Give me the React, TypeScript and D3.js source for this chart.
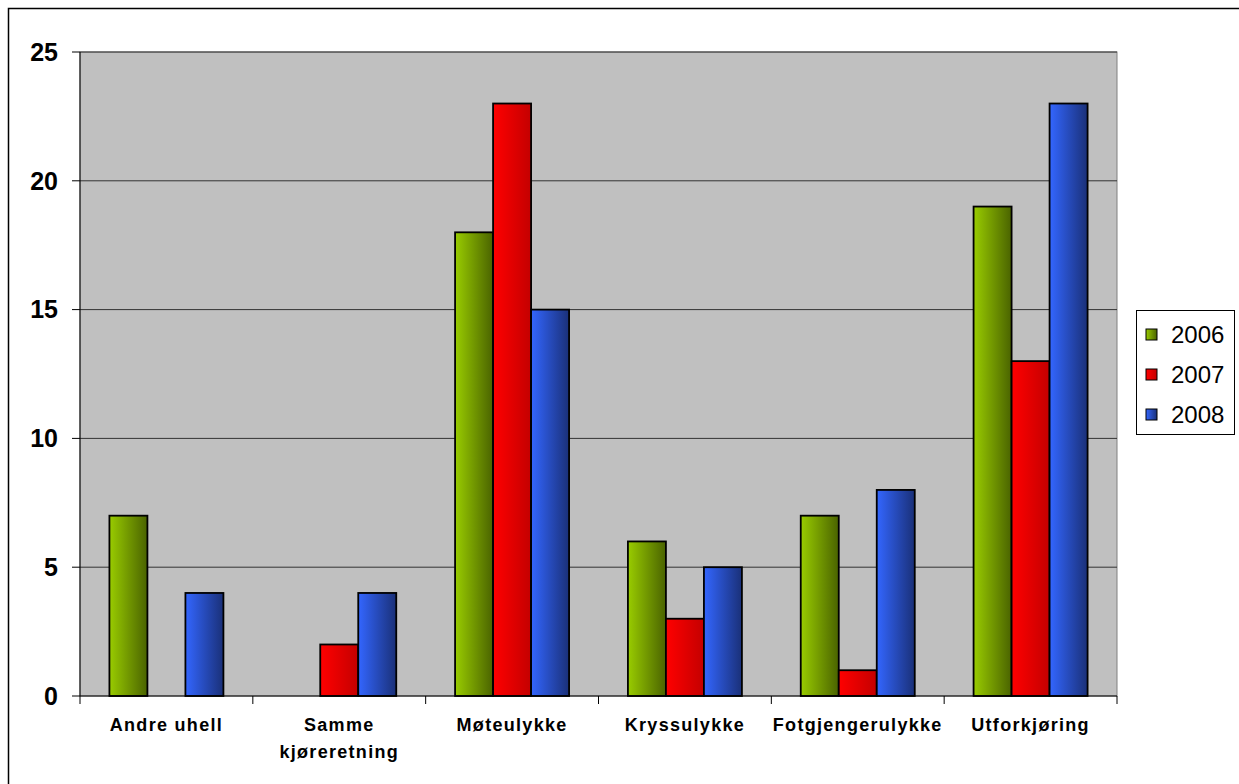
import React from "react";
import * as d3 from "d3";

const categories = ["Andre uhell", "Samme kjøreretning", "Møteulykke", "Kryssulykke", "Fotgjengerulykke", "Utforkjøring"];
const categoryLines = [["Andre uhell"], ["Samme", "kjøreretning"], ["Møteulykke"], ["Kryssulykke"], ["Fotgjengerulykke"], ["Utforkjøring"]];
const seriesNames = ["2006", "2007", "2008"];
const values2006 = [7, 0, 18, 6, 7, 19];
const values2007 = [0, 2, 23, 3, 1, 13];
const values2008 = [4, 4, 15, 5, 8, 23];
const yTicks = [0, 5, 10, 15, 20, 25];

const seriesValues = [values2006, values2007, values2008];
const gradients = [
  ["#99CC00", "#4A6300"],
  ["#FF0000", "#C40000"],
  ["#3366FF", "#1A3078"],
];

export default function App() {
  const W = 1239, H = 784;
  const left = 80, right = 1117, top = 52, bottom = 696;
  const x0 = d3.scaleBand<string>().domain(categories).range([left, right]).paddingInner(0).paddingOuter(0);
  const groupW = 114;
  const x1 = d3.scaleBand<string>().domain(seriesNames).range([0, groupW]).padding(0);
  const y = d3.scaleLinear().domain([0, 25]).range([bottom, top]);
  const font = "Arial, 'Liberation Sans', sans-serif";

  return (
    <svg width={W} height={H} style={{ position: "absolute", left: 0, top: 0, background: "#fff" }}>
      <defs>
        {gradients.map((g, i) => (
          <linearGradient key={i} id={`g${i}`} x1="0" x2="1" y1="0" y2="0">
            <stop offset="0" stopColor={g[0]} />
            <stop offset="1" stopColor={g[1]} />
          </linearGradient>
        ))}
      </defs>
      <rect x={8.5} y={8.5} width={1240} height={800} fill="none" stroke="#000" strokeWidth={1.5} />
      <rect x={left} y={top} width={right - left} height={bottom - top} fill="#C0C0C0" stroke="#808080" strokeWidth={1} />
      {yTicks.filter(t => t > 0).map(t => (
        <line key={t} x1={left} x2={right} y1={y(t)} y2={y(t)} stroke="#333" strokeWidth={1} />
      ))}
      {categories.map((c, ci) => {
        const gx = x0(c)! + (x0.bandwidth() - groupW) / 2;
        return seriesNames.map((s, si) => {
          const v = seriesValues[si][ci];
          if (!v) return null;
          return (
            <rect key={c + s} x={gx + x1(s)!} y={y(v)} width={x1.bandwidth()} height={y(0) - y(v)}
              fill={`url(#g${si})`} stroke="#000" strokeWidth={1.8} />
          );
        });
      })}
      <line x1={left} x2={left} y1={top} y2={bottom} stroke="#000" strokeWidth={1} />
      <line x1={left} x2={right} y1={bottom} y2={bottom} stroke="#000" strokeWidth={1} />
      {yTicks.map(t => (
        <g key={t}>
          <line x1={left - 8} x2={left} y1={y(t)} y2={y(t)} stroke="#000" />
          <text x={58} y={y(t)} dy="0.35em" textAnchor="end" fontFamily={font} fontWeight="bold" fontSize={25}>{t}</text>
        </g>
      ))}
      {d3.range(categories.length + 1).map(i => {
        const xx = left + i * x0.bandwidth();
        return <line key={i} x1={xx} x2={xx} y1={bottom} y2={bottom + 8} stroke="#000" />;
      })}
      {categories.map((c, ci) => (
        <text key={c} x={x0(c)! + x0.bandwidth() / 2} y={731} textAnchor="middle" fontFamily={font} fontWeight="bold" fontSize={18} letterSpacing={1.3}>
          {categoryLines[ci].map((l, li) => (
            <tspan key={li} x={x0(c)! + x0.bandwidth() / 2} dy={li === 0 ? 0 : 27}>{l}</tspan>
          ))}
        </text>
      ))}
      <rect x={1136.5} y={310.5} width={98} height={124} fill="#fff" stroke="#000" strokeWidth={1} />
      {seriesNames.map((s, si) => (
        <g key={s}>
          <rect x={1146} y={329 + si * 40} width={11} height={11} fill={`url(#g${si})`} stroke="#000" strokeWidth={1} />
          <text x={1171} y={335 + si * 40} dy="0.35em" fontFamily={font} fontSize={24}>{s}</text>
        </g>
      ))}
    </svg>
  );
}
